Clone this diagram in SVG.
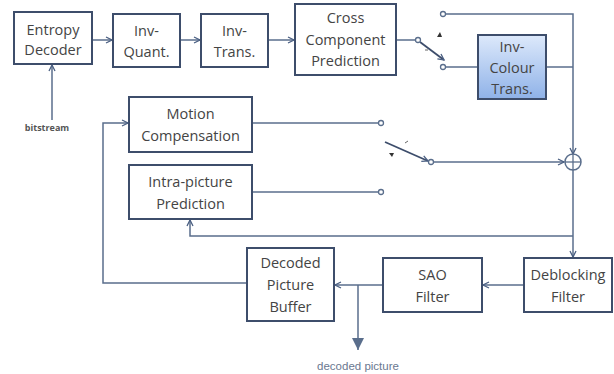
<svg xmlns="http://www.w3.org/2000/svg" width="614" height="374" viewBox="0 0 614 374">
<defs>
<marker id="ah" markerWidth="8" markerHeight="8" refX="7" refY="4" orient="auto" markerUnits="userSpaceOnUse">
<path d="M1,1 L7,4 L1,7" fill="none" stroke="#4a5f82" stroke-width="1.3"/>
</marker>
<marker id="big" markerWidth="14" markerHeight="14" refX="12" refY="6" orient="auto" markerUnits="userSpaceOnUse">
<path d="M0,0 L12,6 L0,12 Z" fill="#5a6e8c"/>
</marker>
<linearGradient id="blue" x1="0" y1="0" x2="0" y2="1">
<stop offset="0" stop-color="#dde9fb"/>
<stop offset="1" stop-color="#8fb2e8"/>
</linearGradient>
</defs>
<style>
.box{fill:#fff;stroke:#3d4d6b;stroke-width:2}
.t{font-family:"Open Sans","Liberation Sans",sans-serif;font-size:14.5px;fill:#444;text-anchor:middle}
.c{fill:none;stroke:#5a6e8c;stroke-width:1.5}
.sw{fill:#fff;stroke:#5a6e8c;stroke-width:1.3}
</style>
<rect width="614" height="374" fill="#fff"/>
<g id="connectors">
<line class="c" x1="92" y1="40" x2="112" y2="40" marker-end="url(#ah)"/>
<line class="c" x1="180" y1="40" x2="200" y2="40" marker-end="url(#ah)"/>
<line class="c" x1="268" y1="40" x2="294" y2="40" marker-end="url(#ah)"/>
<line class="c" x1="396" y1="40" x2="416" y2="40"/>
<line class="c" x1="52" y1="120" x2="52" y2="65" marker-end="url(#ah)"/>
<polyline class="c" points="445,14 573,14 573,154" marker-end="url(#ah)"/>
<line class="c" x1="445" y1="67" x2="478" y2="67"/>
<line class="c" x1="546" y1="67" x2="573" y2="67"/>
<line class="c" x1="252" y1="123" x2="379" y2="123"/>
<line class="c" x1="252" y1="192" x2="379" y2="192"/>
<line class="c" x1="433" y1="162" x2="564" y2="162" marker-end="url(#ah)"/>
<line class="c" x1="573" y1="170" x2="573" y2="257" marker-end="url(#ah)"/>
<polyline class="c" points="573,236 190,236 190,220" marker-end="url(#ah)"/>
<line class="c" x1="524" y1="285" x2="483" y2="285" marker-end="url(#ah)"/>
<line class="c" x1="383" y1="285" x2="335" y2="285" marker-end="url(#ah)"/>
<line class="c" x1="358" y1="285" x2="358" y2="350" marker-end="url(#big)"/>
<polyline class="c" points="247,283 103,283 103,123 128,123" marker-end="url(#ah)"/>
<line x1="420" y1="42" x2="444" y2="60" stroke="#3d4d6b" stroke-width="1.8" marker-end="url(#ah)"/>
<path d="M437,37 l3,-5 l2,5 z" fill="#333"/>
<line x1="425" y1="50" x2="428" y2="50" stroke="#666" stroke-width="1"/>
<line x1="385" y1="142" x2="428" y2="161" stroke="#3d4d6b" stroke-width="1.8" marker-end="url(#ah)"/>
<path d="M389,153 l5,0 l-2,4 z" fill="#333"/>
<line x1="405" y1="143" x2="408" y2="141" stroke="#666" stroke-width="1"/>
<circle class="sw" cx="418" cy="40" r="2.5"/>
<circle class="sw" cx="443" cy="14" r="2.5"/>
<circle class="sw" cx="443" cy="67" r="2.5"/>
<circle class="sw" cx="381" cy="123" r="2.5"/>
<circle class="sw" cx="381" cy="192" r="2.5"/>
<circle class="sw" cx="431" cy="162" r="2.5"/>
<g id="adder">
<circle cx="573" cy="162" r="8" fill="#fff" stroke="#5a6e8c" stroke-width="1.5"/>
<line x1="565" y1="162" x2="581" y2="162" stroke="#5a6e8c" stroke-width="1.3"/>
<line x1="573" y1="154" x2="573" y2="170" stroke="#5a6e8c" stroke-width="1.3"/>
</g>
</g>
<g id="entropy"><rect class="box" x="14" y="12" width="78" height="52"/><text class="t" x="53" y="35">Entropy</text><text class="t" x="53" y="55">Decoder</text></g>
<g id="invquant"><rect class="box" x="113" y="14" width="67" height="53"/><text class="t" x="146.5" y="36">Inv-</text><text class="t" x="146.5" y="57">Quant.</text></g>
<g id="invtrans"><rect class="box" x="201" y="14" width="67" height="53"/><text class="t" x="234.5" y="36">Inv-</text><text class="t" x="234.5" y="57">Trans.</text></g>
<g id="ccp"><rect class="box" x="295" y="4" width="101" height="71"/><text class="t" x="345.5" y="23">Cross</text><text class="t" x="345.5" y="45">Component</text><text class="t" x="345.5" y="66">Prediction</text></g>
<g id="invcolour"><rect x="478" y="35" width="68" height="64" fill="url(#blue)" stroke="#3d4d6b" stroke-width="2"/><text class="t" x="512" y="52">Inv-</text><text class="t" x="512" y="73">Colour</text><text class="t" x="512" y="94">Trans.</text></g>
<g id="motion"><rect class="box" x="129" y="97" width="123" height="55"/><text class="t" x="190.5" y="119">Motion</text><text class="t" x="190.5" y="141">Compensation</text></g>
<g id="intra"><rect class="box" x="129" y="165" width="123" height="54"/><text class="t" x="190.5" y="187">Intra-picture</text><text class="t" x="190.5" y="209">Prediction</text></g>
<g id="dpb"><rect class="box" x="247" y="248" width="87" height="73"/><text class="t" x="290.5" y="268">Decoded</text><text class="t" x="290.5" y="290">Picture</text><text class="t" x="290.5" y="312">Buffer</text></g>
<g id="sao"><rect class="box" x="383" y="258" width="99" height="54"/><text class="t" x="432.5" y="280">SAO</text><text class="t" x="432.5" y="302">Filter</text></g>
<g id="deblock"><rect class="box" x="524" y="258" width="88" height="54"/><text class="t" x="568" y="280">Deblocking</text><text class="t" x="568" y="302">Filter</text></g>
<g id="labels">
<text x="47" y="131" font-family="Open Sans,Liberation Sans,sans-serif" font-size="9" font-weight="bold" fill="#555" text-anchor="middle">bitstream</text>
<text x="358" y="370" font-family="Liberation Sans,Arial,sans-serif" font-size="11.5" fill="#6a7890" text-anchor="middle">decoded picture</text>
</g>
</svg>
